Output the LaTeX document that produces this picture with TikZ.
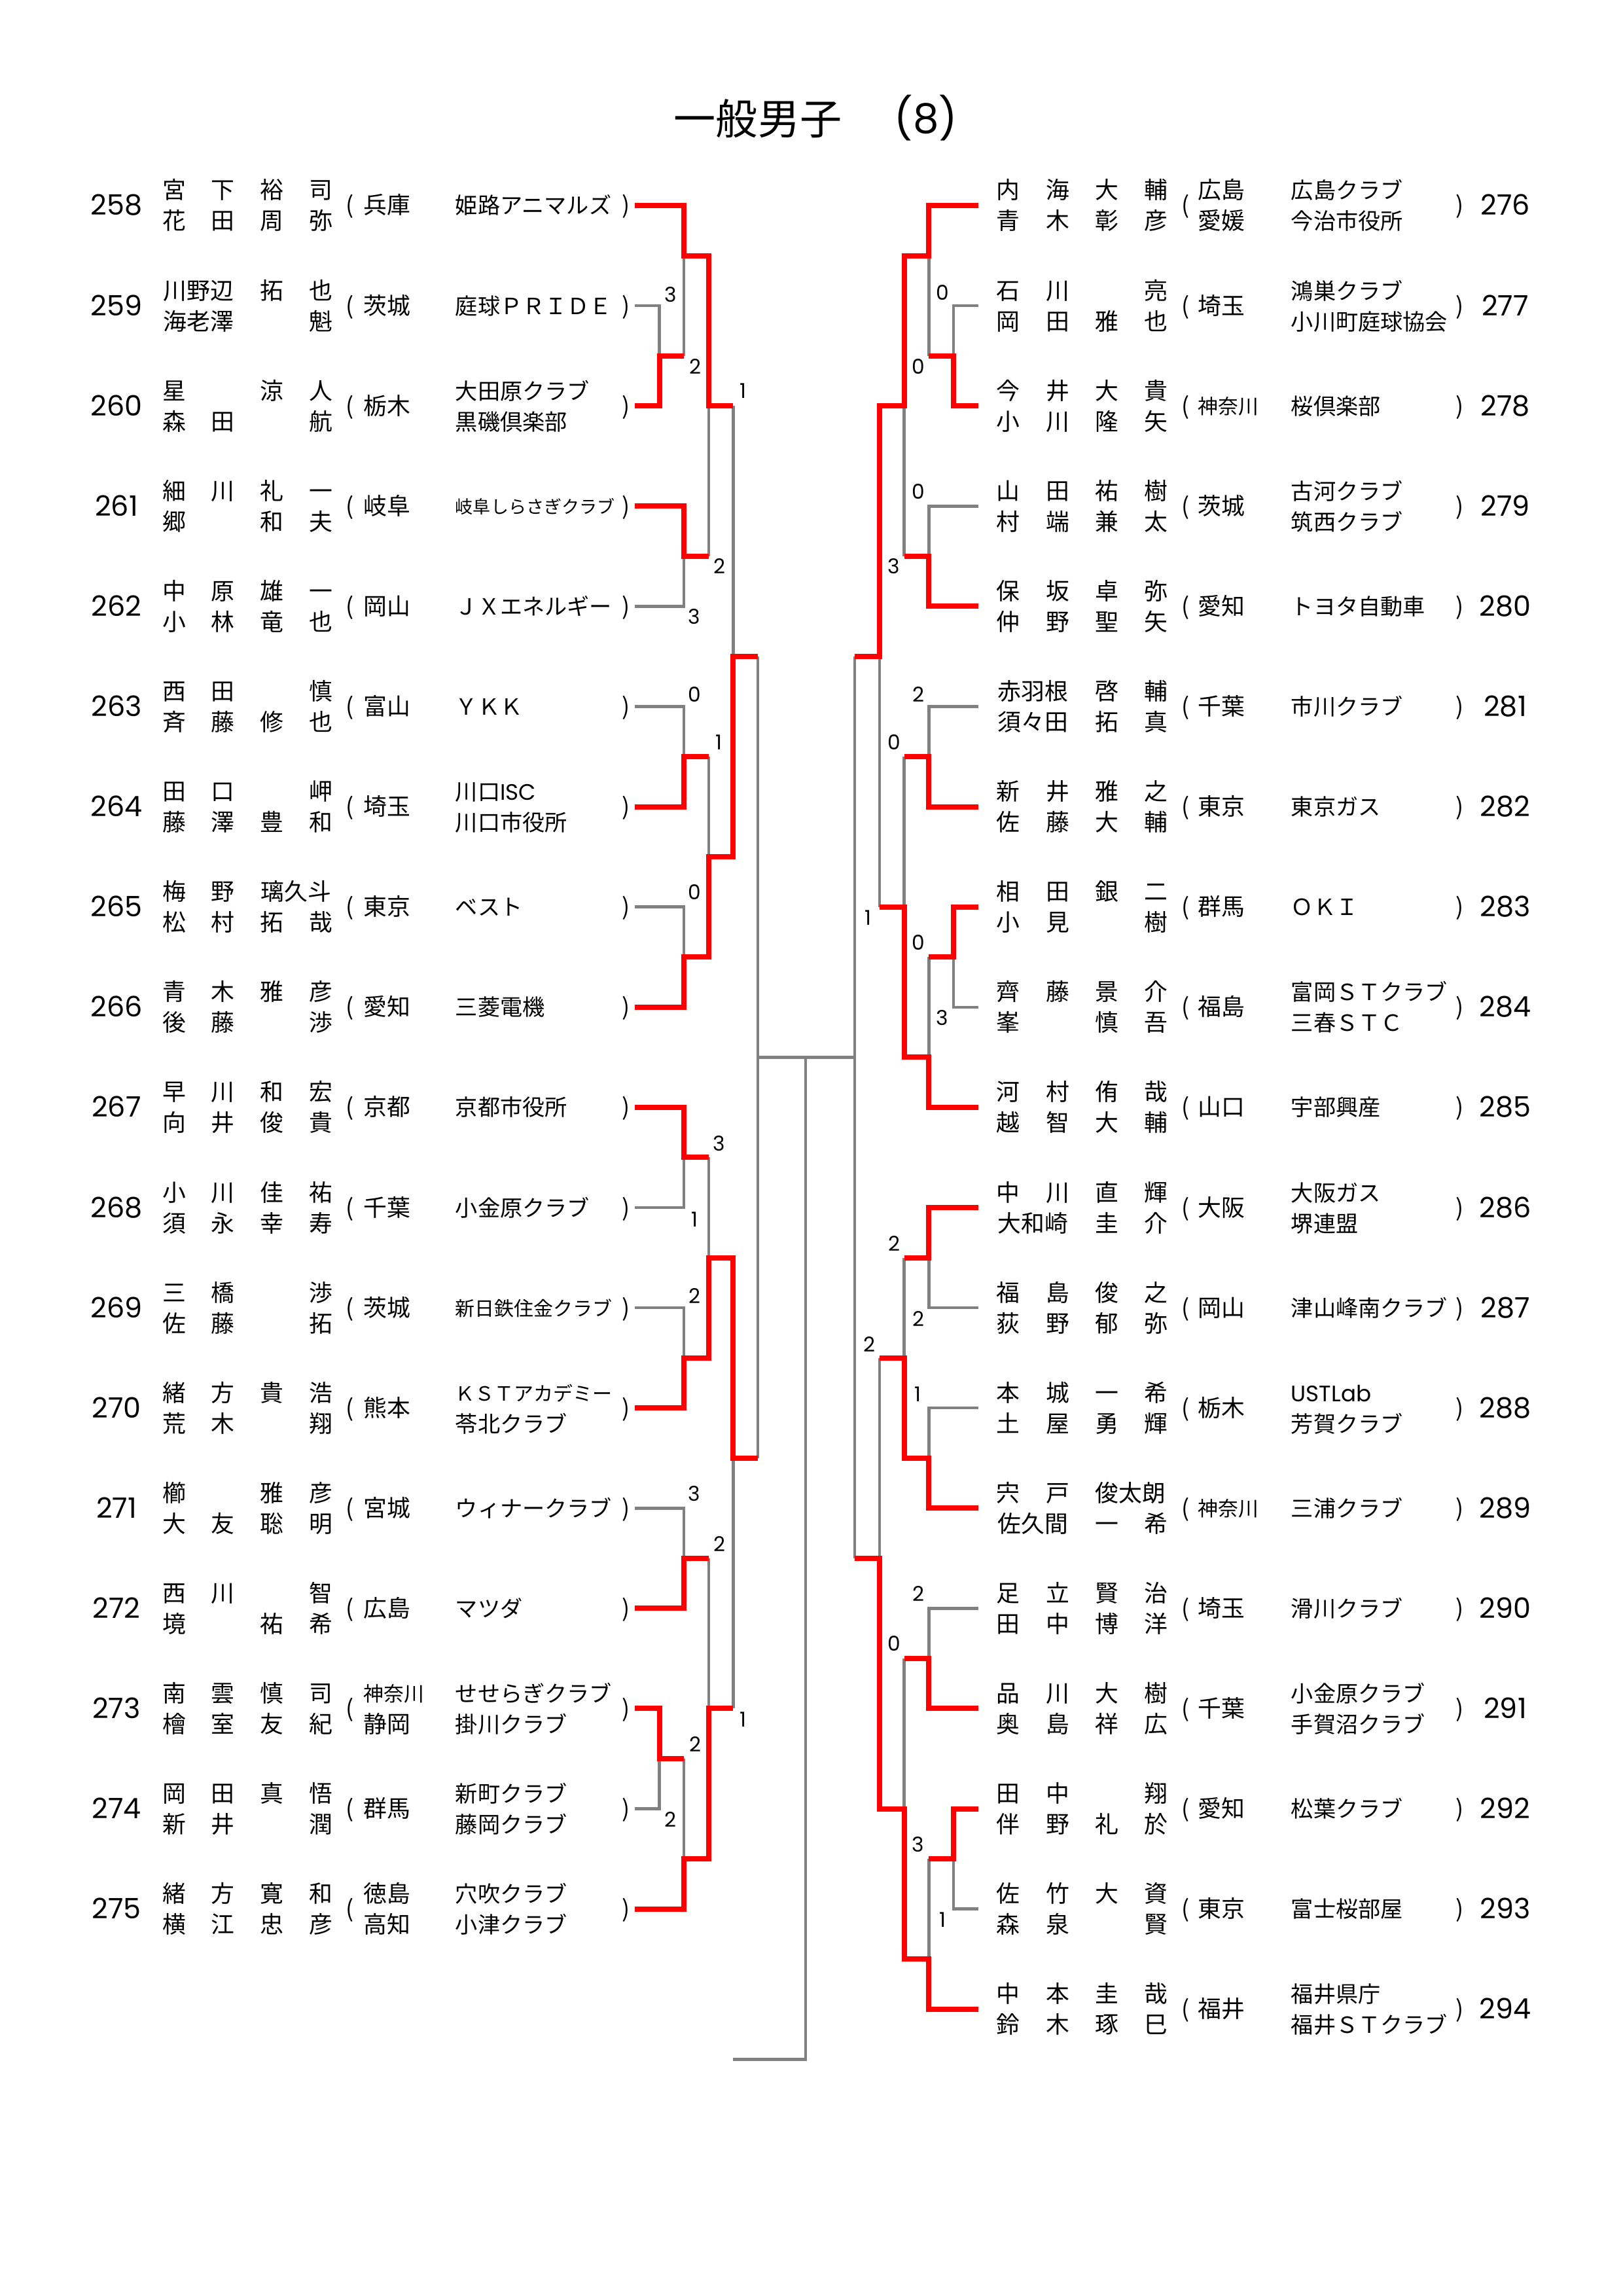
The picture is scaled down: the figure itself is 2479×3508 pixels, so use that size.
\documentclass[tikz,border=0pt]{standalone}
\usepackage{fontspec}
\newfontfamily\jp{Noto Sans CJK JP}
\newfontfamily\pop{Poppins}
\newcommand\fj[1]{\jp\fontsize{#1}{#1}\selectfont}
\newcommand\fp[1]{\pop\fontsize{#1}{#1}\selectfont}
\definecolor{lgray}{RGB}{128,128,128}
\definecolor{wred}{RGB}{255,0,0}
\tikzset{
  nm/.style={font=\fj{8.6}, inner sep=0pt, anchor=base},
  pf/.style={font=\fj{8.6}, inner sep=0pt, anchor=base west},
  tm/.style={font=\fj{8.2}, inner sep=0pt, anchor=base west},
  nb/.style={font=\fp{10.3}, inner sep=0pt, anchor=base},
  sc/.style={font=\fp{7.5}, inner sep=0pt, anchor=base},
  gl/.style={draw=lgray, line width=1.08pt, line join=miter},
  rl/.style={draw=wred, line width=1.92pt, line join=miter},
}
\newcommand\mrow[1]{%
  \pgfmathsetmacro\Ya{314+153.1*#1-10}%
  \pgfmathsetmacro\Yb{314+153.1*#1+37}%
  \pgfmathsetmacro\Yc{314+153.1*#1+13}%
  \pgfmathsetmacro\Yn{314+153.1*#1+15}}
\newcommand\mcell[4]{\if\relax\detokenize{#4}\relax\else\node[nm] (#1) at (#2,#3) {#4};\fi}
\newcommand\mNL[6]{\mcell{#1a}{266}{#2}{#3}\mcell{#1b}{340}{#2}{#4}\mcell{#1c}{415}{#2}{#5}\mcell{#1d}{490}{#2}{#6}}
\newcommand\mNR[6]{\mcell{#1a}{1540}{#2}{#3}\mcell{#1b}{1616}{#2}{#4}\mcell{#1c}{1691}{#2}{#5}\mcell{#1d}{1766}{#2}{#6}}
\newcommand\mLE[1]{\node[nb] (n#1) at (178,\Yn) {#1};\node[nm] (n#1o) at (535,\Yc) {(};\node[nm] (n#1c) at (957,\Yc) {)};}
\newcommand\mRE[1]{\node[nb] (n#1) at (2300,\Yn) {#1};\node[nm] (n#1o) at (1812,\Yc) {(};\node[nm] (n#1c) at (2231,\Yc) {)};}
\newcommand\mLP[2]{\node[pf] (n#1p) at (555,\Yc) {#2};}
\newcommand\mLPP[3]{\node[pf] (n#1p) at (555,\Ya) {#2};\node[pf] (n#1q) at (555,\Yb) {#3};}
\newcommand\mLT[2]{\node[tm] (n#1t) at (695,\Yc) {#2};}
\newcommand\mLTT[3]{\node[tm] (n#1t) at (695,\Ya) {#2};\node[tm] (n#1u) at (695,\Yb) {#3};}
\newcommand\mRP[2]{\node[pf] (n#1p) at (1830,\Yc) {#2};}
\newcommand\mRPP[3]{\node[pf] (n#1p) at (1830,\Ya) {#2};\node[pf] (n#1q) at (1830,\Yb) {#3};}
\newcommand\mRT[2]{\node[tm] (n#1t) at (1972,\Yc) {#2};}
\newcommand\mRTT[3]{\node[tm] (n#1t) at (1972,\Ya) {#2};\node[tm] (n#1u) at (1972,\Yb) {#3};}
\def\xLa{970}\def\xLb{1007.6}\def\xLc{1045.2}\def\xLd{1082.8}\def\xLe{1120.4}\def\xLf{1158}
\def\xRa{1495}\def\xRb{1457}\def\xRc{1419.4}\def\xRd{1381.6}\def\xRe{1343.8}\def\xRf{1306}
\begin{document}
\begin{tikzpicture}[x=0.24pt,y=-0.24pt]
\fill[white] (0,0) rectangle (2479,3508);
\path[use as bounding box] (0,0) rectangle (2479,3508);
% title
\node[font=\fj{15.4}, inner sep=0pt, anchor=base] (title) at (1158,206) {一般男子};
\node[font=\fp{15}, inner sep=0pt, anchor=base] (titlenum) at (1415,204) {(8)};

% ---------------- bracket ----------------
\begin{scope}[shift={(0,314)}, y={(0pt,-18.372pt)}]
% gray (left)
\draw[gl] (\xLa,2) -- (\xLb,2) -- (\xLb,3);
\draw[gl] (\xLc,3) -- (\xLc,1);
\draw[gl] (\xLa,8) -- (\xLc,8) -- (\xLc,7);
\draw[gl] (\xLd,7) -- (\xLd,4);
\draw[gl] (\xLe,4) -- (\xLe,9);
\draw[gl] (\xLa,10) -- (\xLc,10) -- (\xLc,11);
\draw[gl] (\xLa,14) -- (\xLc,14) -- (\xLc,15);
\draw[gl] (\xLd,11) -- (\xLd,13);
\draw[gl] (\xLf,9) -- (\xLf,25);
\draw[gl] (\xLa,20) -- (\xLc,20) -- (\xLc,19);
\draw[gl] (\xLd,19) -- (\xLd,21);
\draw[gl] (\xLa,22) -- (\xLc,22) -- (\xLc,23);
\draw[gl] (\xLa,26) -- (\xLc,26) -- (\xLc,27);
\draw[gl] (\xLd,27) -- (\xLd,30);
\draw[gl] (\xLa,32) -- (\xLb,32) -- (\xLb,31);
\draw[gl] (\xLc,31) -- (\xLc,33);
\draw[gl] (\xLe,30) -- (\xLe,25);
% center
\draw[gl] (\xLf,17) -- (\xRf,17);
\draw[gl] (1231,17) -- (1231,37) -- (\xLe,37);
% gray (right)
\draw[gl] (\xRa,2) -- (\xRb,2) -- (\xRb,3);
\draw[gl] (\xRc,3) -- (\xRc,1);
\draw[gl] (\xRa,6) -- (\xRc,6) -- (\xRc,7);
\draw[gl] (\xRd,7) -- (\xRd,4);
\draw[gl] (\xRe,9) -- (\xRe,14);
\draw[gl] (\xRa,10) -- (\xRc,10) -- (\xRc,11);
\draw[gl] (\xRd,11) -- (\xRd,14);
\draw[gl] (\xRa,16) -- (\xRb,16) -- (\xRb,15);
\draw[gl] (\xRc,15) -- (\xRc,17);
\draw[gl] (\xRf,9) -- (\xRf,27);
\draw[gl] (\xRa,22) -- (\xRc,22) -- (\xRc,21);
\draw[gl] (\xRd,21) -- (\xRd,23);
\draw[gl] (\xRa,24) -- (\xRc,24) -- (\xRc,25);
\draw[gl] (\xRe,23) -- (\xRe,27);
\draw[gl] (\xRa,28) -- (\xRc,28) -- (\xRc,29);
\draw[gl] (\xRd,29) -- (\xRd,32);
\draw[gl] (\xRa,34) -- (\xRb,34) -- (\xRb,33);
\draw[gl] (\xRc,33) -- (\xRc,35);
% red (left)
\draw[rl] (\xLa,0) -- (\xLc,0) -- (\xLc,1) -- (\xLd,1) -- (\xLd,4) -- (\xLe,4);
\draw[rl] (\xLa,4) -- (\xLb,4) -- (\xLb,3) -- (\xLc,3);
\draw[rl] (\xLa,6) -- (\xLc,6) -- (\xLc,7) -- (\xLd,7);
\draw[rl] (\xLa,12) -- (\xLc,12) -- (\xLc,11) -- (\xLd,11);
\draw[rl] (\xLa,16) -- (\xLc,16) -- (\xLc,15) -- (\xLd,15) -- (\xLd,13) -- (\xLe,13) -- (\xLe,9) -- (\xLf,9);
\draw[rl] (\xLa,18) -- (\xLc,18) -- (\xLc,19) -- (\xLd,19);
\draw[rl] (\xLa,24) -- (\xLc,24) -- (\xLc,23) -- (\xLd,23) -- (\xLd,21) -- (\xLe,21) -- (\xLe,25) -- (\xLf,25);
\draw[rl] (\xLa,28) -- (\xLc,28) -- (\xLc,27) -- (\xLd,27);
\draw[rl] (\xLa,30) -- (\xLb,30) -- (\xLb,31) -- (\xLc,31);
\draw[rl] (\xLa,34) -- (\xLc,34) -- (\xLc,33) -- (\xLd,33) -- (\xLd,30) -- (\xLe,30);
% red (right)
\draw[rl] (\xRa,0) -- (\xRc,0) -- (\xRc,1) -- (\xRd,1) -- (\xRd,4) -- (\xRe,4) -- (\xRe,9) -- (\xRf,9);
\draw[rl] (\xRa,4) -- (\xRb,4) -- (\xRb,3) -- (\xRc,3);
\draw[rl] (\xRa,8) -- (\xRc,8) -- (\xRc,7) -- (\xRd,7);
\draw[rl] (\xRa,12) -- (\xRc,12) -- (\xRc,11) -- (\xRd,11);
\draw[rl] (\xRa,14) -- (\xRb,14) -- (\xRb,15) -- (\xRc,15);
\draw[rl] (\xRa,18) -- (\xRc,18) -- (\xRc,17) -- (\xRd,17) -- (\xRd,14) -- (\xRe,14);
\draw[rl] (\xRa,20) -- (\xRc,20) -- (\xRc,21) -- (\xRd,21);
\draw[rl] (\xRa,26) -- (\xRc,26) -- (\xRc,25) -- (\xRd,25) -- (\xRd,23) -- (\xRe,23);
\draw[rl] (\xRa,30) -- (\xRc,30) -- (\xRc,29) -- (\xRd,29);
\draw[rl] (\xRa,32) -- (\xRb,32) -- (\xRb,33) -- (\xRc,33);
\draw[rl] (\xRa,36) -- (\xRc,36) -- (\xRc,35) -- (\xRd,35) -- (\xRd,32) -- (\xRe,32) -- (\xRe,27) -- (\xRf,27);
\end{scope}

% ---------------- scores ----------------
\node[sc] (s1) at (1025,462) {3};
\node[sc] (s2) at (1062,572) {2};
\node[sc] (s3) at (1135,609) {1};
\node[sc] (s4) at (1099,877) {2};
\node[sc] (s5) at (1061,953) {3};
\node[sc] (s6) at (1061,1072) {0};
\node[sc] (s7) at (1098,1145) {1};
\node[sc] (s8) at (1061,1374) {0};
\node[sc] (s9) at (1099,1758) {3};
\node[sc] (s10) at (1061,1874) {1};
\node[sc] (s11) at (1061,1991) {2};
\node[sc] (s12) at (1061,2293) {3};
\node[sc] (s13) at (1099,2370) {2};
\node[sc] (s14) at (1062,2676) {2};
\node[sc] (s15) at (1024,2791) {2};
\node[sc] (s16) at (1135,2638) {1};
\node[sc] (s17) at (1440,459) {0};
\node[sc] (s18) at (1403,572) {0};
\node[sc] (s19) at (1403,763) {0};
\node[sc] (s20) at (1366,877) {3};
\node[sc] (s21) at (1403,1072) {2};
\node[sc] (s22) at (1366,1145) {0};
\node[sc] (s23) at (1326,1413) {1};
\node[sc] (s24) at (1403,1451) {0};
\node[sc] (s25) at (1440,1566) {3};
\node[sc] (s26) at (1366,1911) {2};
\node[sc] (s27) at (1403,2026) {2};
\node[sc] (s28) at (1328,2065) {2};
\node[sc] (s29) at (1402,2141) {1};
\node[sc] (s30) at (1403,2446) {2};
\node[sc] (s31) at (1366,2522) {0};
\node[sc] (s32) at (1403,2829) {3};
\node[sc] (s33) at (1440,2944) {1};

% ---------------- left entries ----------------
\mrow{0}\mLE{258}
\mNL{n258}{\Ya}{宮}{下}{裕}{司}\mNL{n258x}{\Yb}{花}{田}{周}{弥}
\mLP{258}{兵庫}\mLT{258}{姫路アニマルズ}

\mrow{1}\mLE{259}
\node[nm,anchor=base west] (n259a) at (249,\Ya) {川野辺};
\mNL{n259}{\Ya}{}{}{拓}{也}
\node[nm,anchor=base west] (n259xa) at (249,\Yb) {海老澤};
\mNL{n259x}{\Yb}{}{}{}{魁}
\mLP{259}{茨城}\mLT{259}{庭球ＰＲＩＤＥ}

\mrow{2}\mLE{260}
\mNL{n260}{\Ya}{星}{}{涼}{人}\mNL{n260x}{\Yb}{森}{田}{}{航}
\mLP{260}{栃木}\mLTT{260}{大田原クラブ}{黒磯倶楽部}

\mrow{3}\mLE{261}
\mNL{n261}{\Ya}{細}{川}{礼}{一}\mNL{n261x}{\Yb}{郷}{}{和}{夫}
\mLP{261}{岐阜}
\node[tm,font=\fj{6.5}] (n261t) at (695,\Yc-2) {岐阜しらさぎクラブ};

\mrow{4}\mLE{262}
\mNL{n262}{\Ya}{中}{原}{雄}{一}\mNL{n262x}{\Yb}{小}{林}{竜}{也}
\mLP{262}{岡山}\mLT{262}{ＪＸエネルギー}

\mrow{5}\mLE{263}
\mNL{n263}{\Ya}{西}{田}{}{慎}\mNL{n263x}{\Yb}{斉}{藤}{修}{也}
\mLP{263}{富山}\mLT{263}{ＹＫＫ}

\mrow{6}\mLE{264}
\mNL{n264}{\Ya}{田}{口}{}{岬}\mNL{n264x}{\Yb}{藤}{澤}{豊}{和}
\mLP{264}{埼玉}\mLTT{264}{川口{\pop ISC}}{川口市役所}

\mrow{7}\mLE{265}
\mNL{n265}{\Ya}{梅}{野}{}{}
\node[nm,anchor=base west] (n265c) at (398,\Ya) {璃久斗};
\mNL{n265x}{\Yb}{松}{村}{拓}{哉}
\mLP{265}{東京}\mLT{265}{ベスト}

\mrow{8}\mLE{266}
\mNL{n266}{\Ya}{青}{木}{雅}{彦}\mNL{n266x}{\Yb}{後}{藤}{}{渉}
\mLP{266}{愛知}\mLT{266}{三菱電機}

\mrow{9}\mLE{267}
\mNL{n267}{\Ya}{早}{川}{和}{宏}\mNL{n267x}{\Yb}{向}{井}{俊}{貴}
\mLP{267}{京都}\mLT{267}{京都市役所}

\mrow{10}\mLE{268}
\mNL{n268}{\Ya}{小}{川}{佳}{祐}\mNL{n268x}{\Yb}{須}{永}{幸}{寿}
\mLP{268}{千葉}\mLT{268}{小金原クラブ}

\mrow{11}\mLE{269}
\mNL{n269}{\Ya}{三}{橋}{}{渉}\mNL{n269x}{\Yb}{佐}{藤}{}{拓}
\mLP{269}{茨城}
\node[tm,font=\fj{7.2}] (n269t) at (695,\Yc-1) {新日鉄住金クラブ};

\mrow{12}\mLE{270}
\mNL{n270}{\Ya}{緒}{方}{貴}{浩}\mNL{n270x}{\Yb}{荒}{木}{}{翔}
\mLP{270}{熊本}
\node[tm,font=\fj{7.2}] (n270t) at (695,\Ya-1) {ＫＳＴアカデミー};
\node[tm] (n270u) at (695,\Yb) {苓北クラブ};

\mrow{13}\mLE{271}
\mNL{n271}{\Ya}{櫛}{}{雅}{彦}\mNL{n271x}{\Yb}{大}{友}{聡}{明}
\mLP{271}{宮城}\mLT{271}{ウィナークラブ}

\mrow{14}\mLE{272}
\mNL{n272}{\Ya}{西}{川}{}{智}\mNL{n272x}{\Yb}{境}{}{祐}{希}
\mLP{272}{広島}\mLT{272}{マツダ}

\mrow{15}\mLE{273}
\mNL{n273}{\Ya}{南}{雲}{慎}{司}\mNL{n273x}{\Yb}{檜}{室}{友}{紀}
\node[pf,font=\fj{7.4}] (n273p) at (555,\Ya-1) {神奈川};
\node[pf] (n273q) at (555,\Yb) {静岡};
\mLTT{273}{せせらぎクラブ}{掛川クラブ}

\mrow{16}\mLE{274}
\mNL{n274}{\Ya}{岡}{田}{真}{悟}\mNL{n274x}{\Yb}{新}{井}{}{潤}
\mLP{274}{群馬}\mLTT{274}{新町クラブ}{藤岡クラブ}

\mrow{17}\mLE{275}
\mNL{n275}{\Ya}{緒}{方}{寛}{和}\mNL{n275x}{\Yb}{横}{江}{忠}{彦}
\mLPP{275}{徳島}{高知}\mLTT{275}{穴吹クラブ}{小津クラブ}

% ---------------- right entries ----------------
\mrow{0}\mRE{276}
\mNR{n276}{\Ya}{内}{海}{大}{輔}\mNR{n276x}{\Yb}{青}{木}{彰}{彦}
\mRPP{276}{広島}{愛媛}\mRTT{276}{広島クラブ}{今治市役所}

\mrow{1}\mRE{277}
\mNR{n277}{\Ya}{石}{川}{}{亮}\mNR{n277x}{\Yb}{岡}{田}{雅}{也}
\mRP{277}{埼玉}\mRTT{277}{鴻巣クラブ}{小川町庭球協会}

\mrow{2}\mRE{278}
\mNR{n278}{\Ya}{今}{井}{大}{貴}\mNR{n278x}{\Yb}{小}{川}{隆}{矢}
\node[pf,font=\fj{7.4}] (n278p) at (1830,\Yc-1) {神奈川};
\mRT{278}{桜倶楽部}

\mrow{3}\mRE{279}
\mNR{n279}{\Ya}{山}{田}{祐}{樹}\mNR{n279x}{\Yb}{村}{端}{兼}{太}
\mRP{279}{茨城}\mRTT{279}{古河クラブ}{筑西クラブ}

\mrow{4}\mRE{280}
\mNR{n280}{\Ya}{保}{坂}{卓}{弥}\mNR{n280x}{\Yb}{仲}{野}{聖}{矢}
\mRP{280}{愛知}\mRT{280}{トヨタ自動車}

\mrow{5}\mRE{281}
\node[nm,anchor=base west] (n281a) at (1524,\Ya) {赤羽根};
\mNR{n281}{\Ya}{}{}{啓}{輔}
\node[nm,anchor=base west] (n281xa) at (1524,\Yb) {須々田};
\mNR{n281x}{\Yb}{}{}{拓}{真}
\mRP{281}{千葉}\mRT{281}{市川クラブ}

\mrow{6}\mRE{282}
\mNR{n282}{\Ya}{新}{井}{雅}{之}\mNR{n282x}{\Yb}{佐}{藤}{大}{輔}
\mRP{282}{東京}\mRT{282}{東京ガス}

\mrow{7}\mRE{283}
\mNR{n283}{\Ya}{相}{田}{銀}{二}\mNR{n283x}{\Yb}{小}{見}{}{樹}
\mRP{283}{群馬}\mRT{283}{ＯＫＩ}

\mrow{8}\mRE{284}
\mNR{n284}{\Ya}{齊}{藤}{景}{介}\mNR{n284x}{\Yb}{峯}{}{慎}{吾}
\mRP{284}{福島}\mRTT{284}{富岡ＳＴクラブ}{三春ＳＴＣ}

\mrow{9}\mRE{285}
\mNR{n285}{\Ya}{河}{村}{侑}{哉}\mNR{n285x}{\Yb}{越}{智}{大}{輔}
\mRP{285}{山口}\mRT{285}{宇部興産}

\mrow{10}\mRE{286}
\mNR{n286}{\Ya}{中}{川}{直}{輝}
\node[nm,anchor=base west] (n286xa) at (1524,\Yb) {大和崎};
\mNR{n286x}{\Yb}{}{}{圭}{介}
\mRP{286}{大阪}\mRTT{286}{大阪ガス}{堺連盟}

\mrow{11}\mRE{287}
\mNR{n287}{\Ya}{福}{島}{俊}{之}\mNR{n287x}{\Yb}{荻}{野}{郁}{弥}
\mRP{287}{岡山}\mRT{287}{津山峰南クラブ}

\mrow{12}\mRE{288}
\mNR{n288}{\Ya}{本}{城}{一}{希}\mNR{n288x}{\Yb}{土}{屋}{勇}{輝}
\mRP{288}{栃木}\mRTT{288}{{\pop USTLab}}{芳賀クラブ}

\mrow{13}\mRE{289}
\mNR{n289}{\Ya}{宍}{戸}{}{}
\node[nm,anchor=base west] (n289c) at (1673,\Ya) {俊太朗};
\node[nm,anchor=base west] (n289xa) at (1524,\Yb) {佐久間};
\mNR{n289x}{\Yb}{}{}{一}{希}
\node[pf,font=\fj{7.4}] (n289p) at (1830,\Yc-1) {神奈川};
\mRT{289}{三浦クラブ}

\mrow{14}\mRE{290}
\mNR{n290}{\Ya}{足}{立}{賢}{治}\mNR{n290x}{\Yb}{田}{中}{博}{洋}
\mRP{290}{埼玉}\mRT{290}{滑川クラブ}

\mrow{15}\mRE{291}
\mNR{n291}{\Ya}{品}{川}{大}{樹}\mNR{n291x}{\Yb}{奥}{島}{祥}{広}
\mRP{291}{千葉}\mRTT{291}{小金原クラブ}{手賀沼クラブ}

\mrow{16}\mRE{292}
\mNR{n292}{\Ya}{田}{中}{}{翔}\mNR{n292x}{\Yb}{伴}{野}{礼}{於}
\mRP{292}{愛知}\mRT{292}{松葉クラブ}

\mrow{17}\mRE{293}
\mNR{n293}{\Ya}{佐}{竹}{大}{資}\mNR{n293x}{\Yb}{森}{泉}{}{賢}
\mRP{293}{東京}\mRT{293}{富士桜部屋}

\mrow{18}\mRE{294}
\mNR{n294}{\Ya}{中}{本}{圭}{哉}\mNR{n294x}{\Yb}{鈴}{木}{琢}{巳}
\mRP{294}{福井}\mRTT{294}{福井県庁}{福井ＳＴクラブ}
\end{tikzpicture}
\end{document}
